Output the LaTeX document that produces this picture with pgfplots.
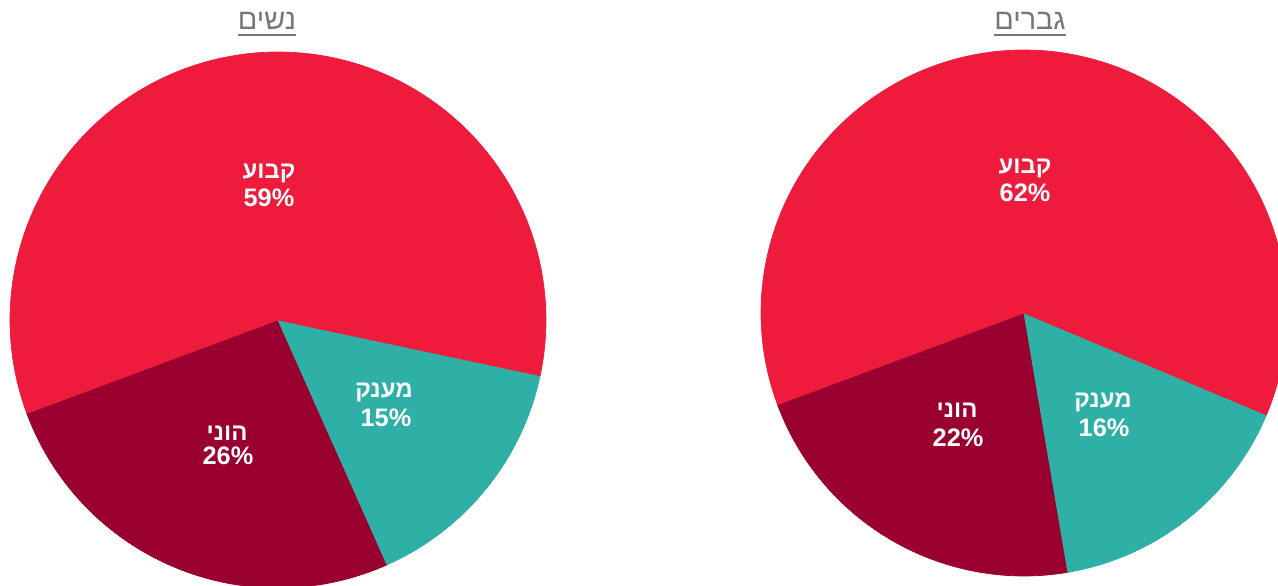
\documentclass[border=0pt]{standalone}
\usepackage{pgfplots}
\pgfplotsset{compat=1.18}
\usepackage{fontspec}
\setmainfont{Liberation Sans}
\newfontfamily\heb[Script=Hebrew]{Liberation Sans}
\TeXXeTstate=1
\definecolor{cRed}{HTML}{EE1B3C}
\definecolor{cDark}{HTML}{990030}
\definecolor{cTeal}{HTML}{2EB0A6}
\definecolor{cTitle}{HTML}{777777}
% women: dark 26, teal 15, red 59 ; men: dark 22, teal 16, red 62
\pgfmathsetmacro\LaA{-159.6}
\pgfmathsetmacro\LaB{\LaA+26*3.6}
\pgfmathsetmacro\LaC{\LaB+15*3.6}
\pgfmathsetmacro\LaD{\LaC+59*3.6}
\pgfmathsetmacro\RaA{-159.6}
\pgfmathsetmacro\RaB{\RaA+22*3.6}
\pgfmathsetmacro\RaC{\RaB+16*3.6}
\pgfmathsetmacro\RaD{\RaC+62*3.6}
\newcommand{\sector}[6]{%
  \addplot[fill=#6, draw=#6, line width=0.2pt, domain=#4:#5, samples=120, variable=\t]
    ({#1+#3*cos(\t)},{#2+#3*sin(\t)}) -- (axis cs:#1,#2) -- cycle;}
\newcommand{\ttlul}[1]{\underline{\vphantom{y}#1}}
\tikzset{lab/.style={anchor=base, text=white, inner sep=0pt, font=\heb\bfseries\fontsize{6.8}{8}\selectfont},
  pct/.style={anchor=base, text=white, inner sep=0pt, font=\bfseries\fontsize{7.2}{8}\selectfont},
  ttl/.style={anchor=base, text=cTitle, inner sep=0pt, font=\heb\fontsize{8.2}{9}\selectfont}}
\begin{document}
\begin{tikzpicture}
\begin{axis}[hide axis, scale only axis, width=12.78cm, height=5.86cm,
  xmin=0, xmax=1278, ymin=0, ymax=586, clip=true]
\sector{278}{266}{268}{\LaA}{\LaB}{cDark}
\sector{278}{266}{268}{\LaB}{\LaC}{cTeal}
\sector{278}{266}{268}{\LaC}{\LaD}{cRed}
\sector{1024}{273}{263}{\RaA}{\RaB}{cDark}
\sector{1024}{273}{263}{\RaB}{\RaC}{cTeal}
\sector{1024}{273}{263}{\RaC}{\RaD}{cRed}
\node[lab] at (axis cs:269,407) {\beginR קבוע\endR};
\node[pct] at (axis cs:269,379) {59\%};
\node[lab] at (axis cs:384,188) {\beginR מענק\endR};
\node[pct] at (axis cs:386,159) {15\%};
\node[lab] at (axis cs:227,145) {\beginR הוני\endR};
\node[pct] at (axis cs:228,121) {26\%};
\node[lab] at (axis cs:1025,412) {\beginR קבוע\endR};
\node[pct] at (axis cs:1025,384) {62\%};
\node[lab] at (axis cs:1103,178) {\beginR מענק\endR};
\node[pct] at (axis cs:1104,149) {16\%};
\node[lab] at (axis cs:957,168) {\beginR הוני\endR};
\node[pct] at (axis cs:958,139) {22\%};
\node[ttl] at (axis cs:267,556) {\underline{\beginR נשים\endR}};
\node[ttl] at (axis cs:1030,556) {\underline{\beginR גברים\endR}};
\end{axis}
\path (current axis.south west) rectangle (current axis.north east);
\end{tikzpicture}
\end{document}
